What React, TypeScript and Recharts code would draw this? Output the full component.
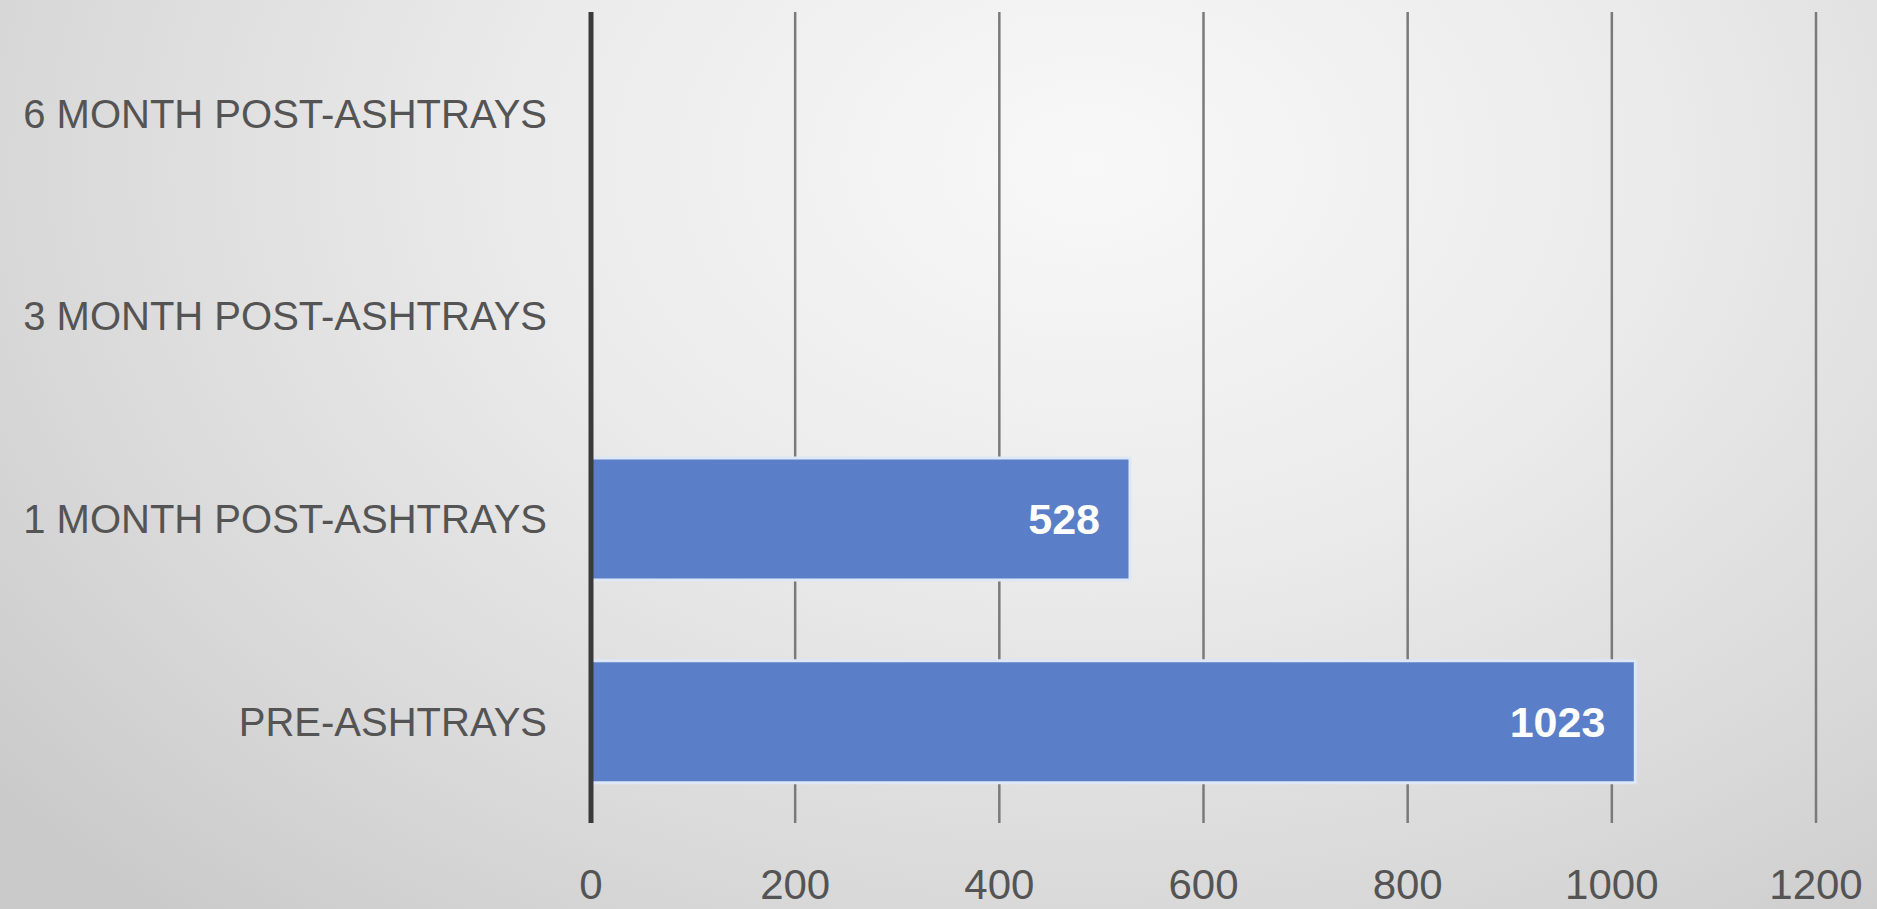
import { Bar, BarChart, CartesianGrid, LabelList, XAxis, YAxis } from "recharts";

const categories = [
  "6 MONTH POST-ASHTRAYS",
  "3 MONTH POST-ASHTRAYS",
  "1 MONTH POST-ASHTRAYS",
  "PRE-ASHTRAYS",
];
const counts: (number | null)[] = [null, null, 528, 1023];
const xTicks = [0, 200, 400, 600, 800, 1000, 1200];

const FONT = "'Liberation Sans', Arial, sans-serif";

export default function App() {
  const data = categories.map((c, i) => ({ name: c, value: counts[i] }));
  return (
    <div
      style={{
        position: "absolute",
        left: 0,
        top: 0,
        width: 1877,
        height: 909,
        background:
          "radial-gradient(ellipse 75% 110% at 58% 18%, #f8f8f8 0%, #ebebeb 40%, #d9d9d9 75%, #cacaca 100%)",
        fontFamily: FONT,
      }}
    >
      <BarChart
        width={1877}
        height={909}
        data={data}
        layout="vertical"
        margin={{ top: 12, right: 61, left: 0, bottom: 0 }}
        barCategoryGap="20%"
      >
        <CartesianGrid horizontal={false} stroke="#7a7a7a" strokeWidth={2.5} />
        <XAxis
          type="number"
          domain={[0, 1200]}
          ticks={xTicks}
          axisLine={false}
          tickLine={false}
          tickSize={0}
          tickMargin={46}
          height={86}
          tick={{ fontSize: 42, fill: "#545454", fontFamily: FONT }}
        />
        <YAxis
          type="category"
          dataKey="name"
          width={591}
          tickLine={false}
          tickSize={0}
          tickMargin={44}
          axisLine={{ stroke: "#3a3a3a", strokeWidth: 5 }}
          tick={{ fontSize: 40, fill: "#545454", fontFamily: FONT }}
        />
        <Bar
          dataKey="value"
          fill="#5a7fc8"
          stroke="#dde7f6"
          strokeWidth={3}
          isAnimationActive={false}
        >
          <LabelList
            dataKey="value"
            position="insideRight"
            offset={30}
            fill="#ffffff"
            fontSize={43}
            fontWeight="bold"
            fontFamily={FONT}
            formatter={(v: any) => (v == null ? "" : v)}
          />
        </Bar>
      </BarChart>
    </div>
  );
}
